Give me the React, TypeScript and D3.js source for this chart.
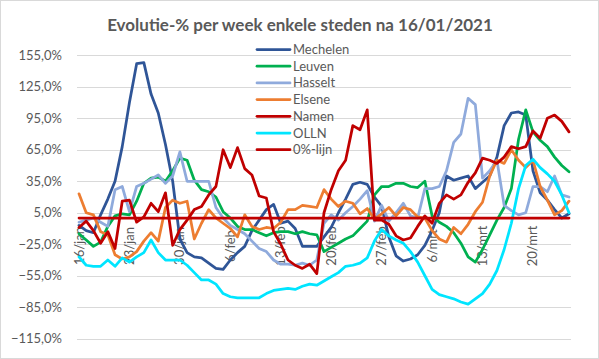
import React, { useEffect, useRef } from 'react';
import * as d3 from 'd3';

// 16/jan t/m 25/mrt 2021, dagelijkse waarden
const startDate = new Date(2021, 0, 16);
const endDate = new Date(2021, 2, 26);
const monthNames = ['jan', 'feb', 'mrt', 'apr', 'mei', 'jun', 'jul', 'aug', 'sep', 'okt', 'nov', 'dec'];

const yTicks = [155, 125, 95, 65, 35, 5, -25, -55, -85, -115];

const mechelen = [-7, -12, -14, 3, 18, 35, 68, 110, 147, 148, 118, 100, 70, 35, -20, -33, -37, -38, -43, -48, -49, -40, -33, -27, -12, -2, 8, 13, -5, -3, -10, -27, -27, -27, -18, -9, 5, 18, 32, 34, 32, 20, 11, -18, -36, -41, -39, -35, -26, -12, 5, 40, 36, 38, 40, 28, 34, 40, 58, 88, 100, 101, 98, 45, 24, 17, 8, 0, 4];
const leuven = [-15, -21, -27, -23, -8, 2, 4, 3, 16, 33, 38, 39, 35, 45, 57, 55, 36, 27, 25, 20, 6, 0, -8, -11, -11, -14, -17, -14, -13, -13, -15, -13, -15, -16, -32, -28, -24, -20, -17, -10, -3, 22, 30, 30, 33, 33, 30, 29, 35, 2, -4, -8, -14, -24, -37, -42, -30, -16, -2, 10, 28, 75, 103, 82, 74, 68, 58, 50, 44];
const hasselt = [-4, -2, 0, -4, -8, 27, 30, 6, 30, 33, 37, 41, 33, 40, 63, 35, 35, 35, 35, 10, 0, -7, -11, -15, -22, -29, -32, -40, -44, -44, -45, -43, -45, -40, -5, 3, -2, 5, 11, 18, 26, -3, 12, -3, 5, 14, 2, 0, 28, 28, 30, 45, 72, 80, 114, 108, 38, 45, 55, 12, 7, 3, 5, 30, 30, 25, 40, 22, 20];
const elsene = [23, 5, 3, -13, -16, -35, -39, -37, -32, -22, -14, -22, 10, 17, 14, 16, -20, -5, 8, 0, -5, -10, -18, 3, -8, -11, -9, -10, -4, 8, 8, 12, 11, 10, 27, 18, 11, 16, 14, 4, 9, -1, 4, 10, 2, 10, 8, 1, 0, -12, -20, -23, -9, -15, -6, 6, 15, 40, 55, 52, 65, 55, 48, 55, 30, 17, 3, 7, 16];
const namen = [-9, -3, -12, -24, -13, -29, 16, 17, -4, 1, 14, 6, 24, -26, -11, -2, 8, 11, 22, 30, 65, 48, 67, 47, 41, 21, 19, -13, -25, -40, -45, -48, -44, -53, 5, 27, 45, 55, 88, 84, 103, -2, -2, -6, -17, -21, -19, -8, 2, -5, 14, 22, 18, 22, 34, 43, 57, 55, 52, 58, 68, 66, 68, 83, 76, 95, 98, 92, 82];
const olln = [-37, -45, -46, -46, -40, -46, -38, -42, -37, -33, -21, -33, -40, -40, -40, -45, -52, -59, -59, -63, -72, -75, -76, -76, -76, -76, -72, -69, -68, -67, -68, -65, -63, -64, -60, -56, -52, -46, -45, -43, -38, -22, -11, -17, -21, -24, -32, -42, -55, -68, -73, -75, -77, -80, -82, -77, -72, -63, -50, -30, -5, 28, 50, 56, 48, 42, 35, 22, 5];
const nulLijn = mechelen.map(() => 0);

const seriesNames = ['Mechelen', 'Leuven', 'Hasselt', 'Elsene', 'Namen', 'OLLN', '0%-lijn'];
const seriesValues = [mechelen, leuven, hasselt, elsene, namen, olln, nulLijn];
const seriesColors = ['#2F5597', '#00B050', '#8FAADC', '#ED7D31', '#C00000', '#00E5FF', '#C00000'];

const W = 599;
const H = 359;
const FONT = 'Lato, "Open Sans", sans-serif';
const TEXT = '#595959';

export default function App() {
    const svgRef = useRef<SVGSVGElement>(null);

    useEffect(() => {
        if (!svgRef.current) return;
        const svg = d3.select(svgRef.current);
        svg.selectAll('*').remove();

        const dates = d3.timeDay.range(startDate, endDate);
        const labels = dates.map(d => `${d.getDate()}/${monthNames[d.getMonth()]}`);

        svg.append('rect')
            .attr('x', 0.5).attr('y', 0.5)
            .attr('width', W - 1).attr('height', H - 1)
            .attr('fill', '#fff')
            .attr('stroke', '#D9D9D9');

        const x = d3.scalePoint<string>().domain(labels).range([79, 569]);
        const y = d3.scaleLinear().domain([-115, 155]).range([338.75, 55.25]);

        // title
        svg.append('text')
            .attr('x', 300).attr('y', 31)
            .attr('text-anchor', 'middle')
            .style('font-family', FONT)
            .style('font-size', '17px')
            .style('font-weight', 'bold')
            .style('fill', TEXT)
            .text('Evolutie-% per week enkele steden na 16/01/2021');

        // gridlines
        svg.append('g').selectAll('line')
            .data(yTicks)
            .join('line')
            .attr('x1', 77).attr('x2', 571)
            .attr('y1', d => Math.round(y(d)) + 0.5)
            .attr('y2', d => Math.round(y(d)) + 0.5)
            .attr('stroke', '#D9D9D9')
            .attr('stroke-width', 1);

        // y labels
        svg.append('g').selectAll('text')
            .data(yTicks)
            .join('text')
            .attr('x', 62)
            .attr('y', d => y(d))
            .attr('dy', '0.35em')
            .attr('text-anchor', 'end')
            .style('font-family', FONT)
            .style('font-size', '13px')
            .style('fill', TEXT)
            .text(d => d3.format('.1f')(d).replace('.', ',') + '%');

        // x labels, every 7 days, rotated
        svg.append('g').selectAll('text')
            .data(labels.filter((_, i) => i % 7 === 0))
            .join('text')
            .attr('transform', d => `translate(${(x(d) ?? 0) + 4.5},246) rotate(-90)`)
            .attr('text-anchor', 'middle')
            .style('font-family', FONT)
            .style('font-size', '13px')
            .style('fill', TEXT)
            .text(d => d);

        // lines
        const line = d3.line<number>()
            .x((_, i) => x(labels[i]) ?? 0)
            .y(d => y(d));

        seriesValues.forEach((vals, k) => {
            svg.append('path')
                .datum(vals)
                .attr('d', line)
                .attr('fill', 'none')
                .attr('stroke', seriesColors[k])
                .attr('stroke-width', 2.75)
                .attr('stroke-linejoin', 'round')
                .attr('stroke-linecap', 'round');
        });

        // legend
        const legend = svg.append('g');
        seriesNames.forEach((name, k) => {
            const ly = 49.5 + k * 16.7;
            legend.append('line')
                .attr('x1', 257).attr('x2', 290)
                .attr('y1', ly).attr('y2', ly)
                .attr('stroke', seriesColors[k])
                .attr('stroke-width', 2.75)
                .attr('stroke-linecap', 'round');
            legend.append('text')
                .attr('x', 293).attr('y', ly)
                .attr('dy', '0.35em')
                .style('font-family', FONT)
                .style('font-size', '13px')
                .style('fill', TEXT)
                .text(name);
        });
    }, []);

    return (
        <svg
            ref={svgRef}
            width={W}
            height={H}
            style={{ position: 'absolute', left: 0, top: 0 }}
        />
    );
}
